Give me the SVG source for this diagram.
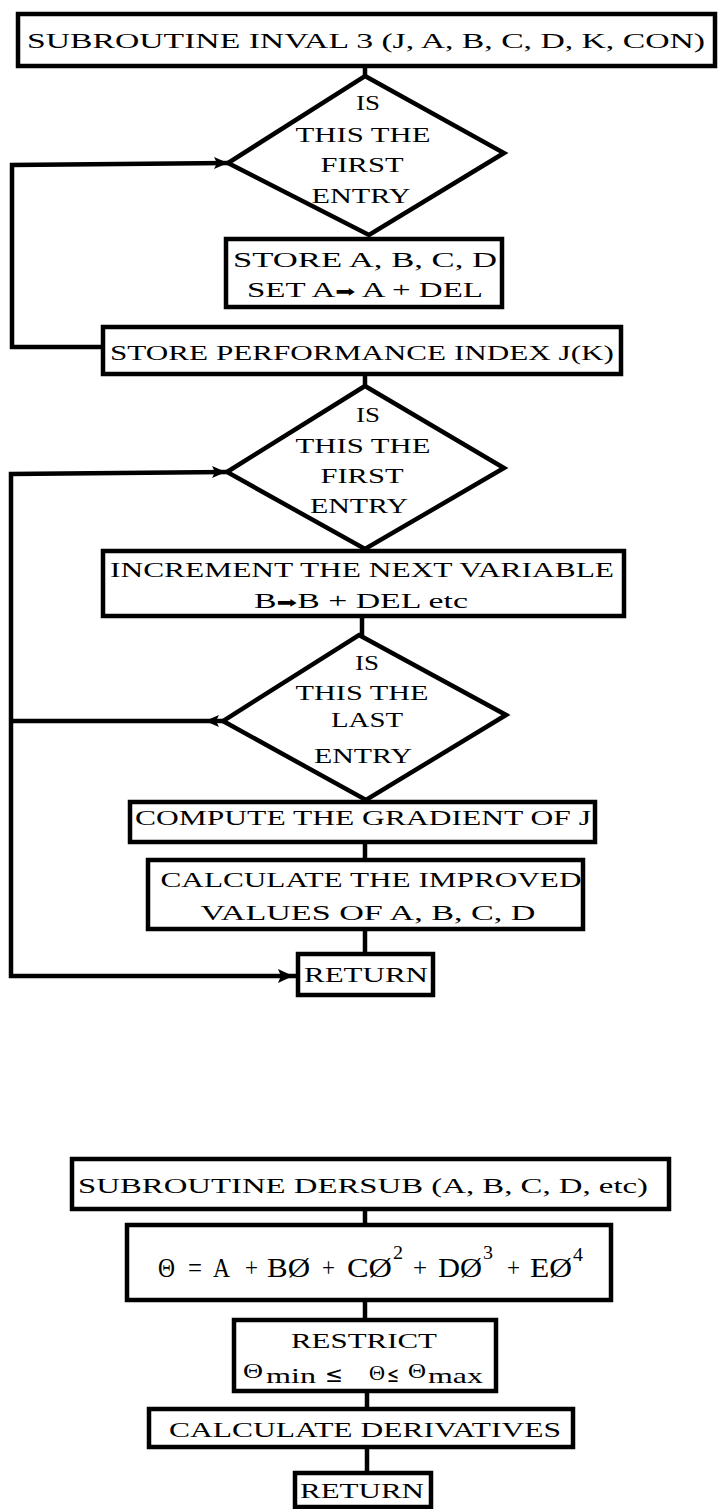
<svg xmlns="http://www.w3.org/2000/svg" width="718" height="1509" viewBox="0 0 718 1509">
<defs>
<style>
.bx{fill:#fff;stroke:#000;stroke-width:4.5}
.dm{fill:#fff;stroke:#000;stroke-width:4.5;stroke-linejoin:miter}
.ln{fill:none;stroke:#000;stroke-width:4.5;stroke-linejoin:miter}
.ah{fill:#000}
text{font-family:"Liberation Serif","Times New Roman",serif;font-size:22px;fill:#000;text-anchor:middle}
.dt{font-size:20px}
.sy{font-family:"DejaVu Sans",sans-serif;font-size:16px}
.st{text-anchor:start}
.le{font-family:"DejaVu Sans",sans-serif;text-anchor:start}
.fm{font-size:28px;text-anchor:start}
.sp{font-size:19px;text-anchor:start}
</style>
</defs>
<rect width="718" height="1509" fill="#fff"/>
<g id="connectors">
<line class="ln" x1="365" y1="66" x2="365" y2="78"/>
<line class="ln" x1="365" y1="374" x2="365" y2="387"/>
<line class="ln" x1="362" y1="616" x2="362" y2="636"/>
<line class="ln" x1="365" y1="842" x2="365" y2="860"/>
<line class="ln" x1="365" y1="929" x2="365" y2="954"/>
<line class="ln" x1="365" y1="1209" x2="365" y2="1225"/>
<line class="ln" x1="365" y1="1300" x2="365" y2="1320"/>
<line class="ln" x1="367" y1="1391" x2="367" y2="1409"/>
<line class="ln" x1="367" y1="1447" x2="367" y2="1473"/>
<polyline class="ln" points="228,163 12,165 12,347 103,347"/>
<polyline class="ln" points="227,472 11,474 11,976 298,976"/>
<polyline class="ln" points="223,721 11,721"/>
<polygon class="ah" points="228,163 214,157 217,163 214,169"/>
<polygon class="ah" points="226,472 212,466 215,472 212,478"/>
<polygon class="ah" points="205,721 219,715 216,721 219,727"/>
<polygon class="ah" points="293,976 278,969 281,976 278,983"/>
</g>
<g id="n1">
<rect class="bx" x="18" y="14" width="697" height="52"/>
<text x="366" y="48" textLength="678" lengthAdjust="spacingAndGlyphs">SUBROUTINE INVAL 3 (J, A, B, C, D, K, CON)</text>
</g>
<g id="d1">
<polygon class="dm" points="365,76 504,153 369,235 228,163"/>
<text class="dt" x="368" y="110" textLength="24" lengthAdjust="spacingAndGlyphs">IS</text>
<text class="dt" x="363" y="142" textLength="135" lengthAdjust="spacingAndGlyphs">THIS THE</text>
<text class="dt" x="362" y="172" textLength="83" lengthAdjust="spacingAndGlyphs">FIRST</text>
<text class="dt" x="361" y="203" textLength="99" lengthAdjust="spacingAndGlyphs">ENTRY</text>
</g>
<g id="n2">
<rect class="bx" x="226" y="239" width="276" height="68"/>
<text x="365" y="267" textLength="264" lengthAdjust="spacingAndGlyphs">STORE A, B, C, D</text>
<text x="365" y="297" textLength="236" lengthAdjust="spacingAndGlyphs">SET A<tspan class="sy">➡</tspan> A + DEL</text>
</g>
<g id="n3">
<rect class="bx" x="103" y="327" width="518" height="47"/>
<text x="362" y="360" textLength="504" lengthAdjust="spacingAndGlyphs">STORE PERFORMANCE INDEX J(K)</text>
</g>
<g id="d2">
<polygon class="dm" points="365,386 504,468 365,549 227,472"/>
<text class="dt" x="368" y="422" textLength="24" lengthAdjust="spacingAndGlyphs">IS</text>
<text class="dt" x="363" y="453" textLength="135" lengthAdjust="spacingAndGlyphs">THIS THE</text>
<text class="dt" x="362" y="483" textLength="83" lengthAdjust="spacingAndGlyphs">FIRST</text>
<text class="dt" x="359" y="513" textLength="98" lengthAdjust="spacingAndGlyphs">ENTRY</text>
</g>
<g id="n4">
<rect class="bx" x="103" y="551" width="521" height="65"/>
<text x="362" y="577" textLength="504" lengthAdjust="spacingAndGlyphs">INCREMENT THE NEXT VARIABLE</text>
<text x="361" y="608" textLength="214" lengthAdjust="spacingAndGlyphs">B<tspan class="sy">➡</tspan>B + DEL etc</text>
</g>
<g id="d3">
<polygon class="dm" points="359,635 506,715 366,800 223,721"/>
<text class="dt" x="367" y="670" textLength="24" lengthAdjust="spacingAndGlyphs">IS</text>
<text class="dt" x="362" y="700" textLength="133" lengthAdjust="spacingAndGlyphs">THIS THE</text>
<text class="dt" x="367" y="727" textLength="72" lengthAdjust="spacingAndGlyphs">LAST</text>
<text class="dt" x="363" y="763" textLength="98" lengthAdjust="spacingAndGlyphs">ENTRY</text>
</g>
<g id="n5">
<rect class="bx" x="130" y="802" width="465" height="40"/>
<text x="363" y="825" textLength="456" lengthAdjust="spacingAndGlyphs">COMPUTE THE GRADIENT OF J</text>
</g>
<g id="n6">
<rect class="bx" x="148" y="860" width="435" height="69"/>
<text x="371" y="887" textLength="421" lengthAdjust="spacingAndGlyphs">CALCULATE THE IMPROVED</text>
<text x="368" y="920" textLength="335" lengthAdjust="spacingAndGlyphs">VALUES OF A, B, C, D</text>
</g>
<g id="n7">
<rect class="bx" x="298" y="954" width="135" height="41"/>
<text x="366" y="982" textLength="124" lengthAdjust="spacingAndGlyphs">RETURN</text>
</g>
<g id="n8">
<rect class="bx" x="72" y="1159" width="597" height="50"/>
<text x="363" y="1193" textLength="570" lengthAdjust="spacingAndGlyphs">SUBROUTINE DERSUB (A, B, C, D, etc)</text>
</g>
<g id="n9">
<rect class="bx" x="127" y="1225" width="484" height="75"/>
<text class="fm" x="158" y="1277" font-size="24" textLength="17" lengthAdjust="spacingAndGlyphs">Θ</text>
<text class="fm" x="188" y="1277" textLength="14" lengthAdjust="spacingAndGlyphs">=</text>
<text class="fm" x="213" y="1277" textLength="17" lengthAdjust="spacingAndGlyphs">A</text>
<text class="fm" x="245" y="1277" textLength="13" lengthAdjust="spacingAndGlyphs">+</text>
<text class="fm" x="267" y="1277" textLength="43" lengthAdjust="spacingAndGlyphs">BØ</text>
<text class="fm" x="322" y="1277" textLength="13" lengthAdjust="spacingAndGlyphs">+</text>
<text class="fm" x="347" y="1277" textLength="45" lengthAdjust="spacingAndGlyphs">CØ</text>
<text class="sp" x="393" y="1259" textLength="10" lengthAdjust="spacingAndGlyphs">2</text>
<text class="fm" x="413" y="1277" textLength="14" lengthAdjust="spacingAndGlyphs">+</text>
<text class="fm" x="438" y="1277" textLength="44" lengthAdjust="spacingAndGlyphs">DØ</text>
<text class="sp" x="483" y="1259" textLength="10" lengthAdjust="spacingAndGlyphs">3</text>
<text class="fm" x="507" y="1277" textLength="13" lengthAdjust="spacingAndGlyphs">+</text>
<text class="fm" x="530" y="1277" textLength="42" lengthAdjust="spacingAndGlyphs">EØ</text>
<text class="sp" x="573" y="1261" textLength="10" lengthAdjust="spacingAndGlyphs">4</text>
</g>
<g id="n10">
<rect class="bx" x="234" y="1320" width="262" height="71"/>
<text x="364" y="1348" textLength="146" lengthAdjust="spacingAndGlyphs">RESTRICT</text>
<text class="st" x="243" y="1378" font-size="19" textLength="20" lengthAdjust="spacingAndGlyphs">Θ</text>
<text class="st" x="266" y="1383" font-size="24" textLength="50" lengthAdjust="spacingAndGlyphs">min</text>
<text class="le" x="325" y="1382" font-size="22" textLength="18" lengthAdjust="spacingAndGlyphs">≤</text>
<text class="st" x="369" y="1380" font-size="18" textLength="16" lengthAdjust="spacingAndGlyphs">Θ</text>
<text class="le" x="387" y="1382" font-size="22" textLength="12" lengthAdjust="spacingAndGlyphs">≤</text>
<text class="st" x="408" y="1378" font-size="19" textLength="18" lengthAdjust="spacingAndGlyphs">Θ</text>
<text class="st" x="428" y="1383" font-size="24" textLength="55" lengthAdjust="spacingAndGlyphs">max</text>
</g>
<g id="n11">
<rect class="bx" x="149" y="1409" width="424" height="38"/>
<text x="365" y="1437" textLength="392" lengthAdjust="spacingAndGlyphs">CALCULATE DERIVATIVES</text>
</g>
<g id="n12">
<rect class="bx" x="295" y="1473" width="136" height="34"/>
<text x="362" y="1498" textLength="124" lengthAdjust="spacingAndGlyphs">RETURN</text>
</g>
</svg>
